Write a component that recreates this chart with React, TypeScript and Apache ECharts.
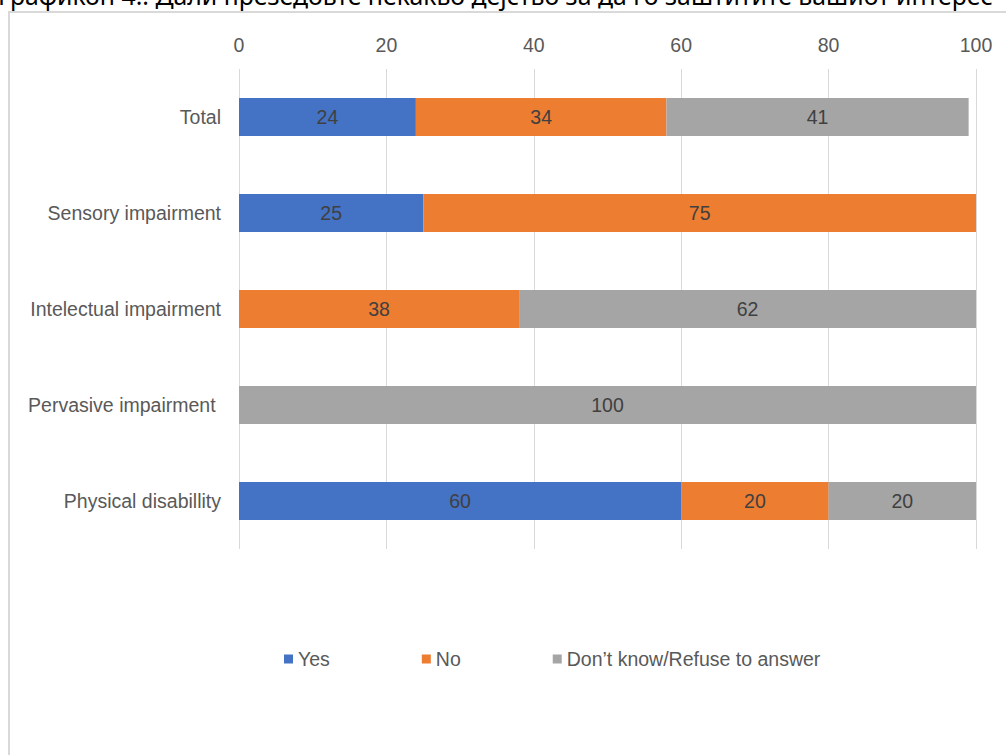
import React, { useEffect, useRef } from "react";
import * as echarts from "echarts";

const categories = [
  "Total",
  "Sensory impairment",
  "Intelectual impairment",
  "Pervasive impairment ",
  "Physical disabillity",
];
const yesValues = [24, 25, 0, 0, 60];
const noValues = [34, 75, 38, 0, 20];
const dkValues = [41, 0, 62, 100, 20];
const seriesNames = ["Yes", "No", "Don’t know/Refuse to answer"];
const seriesColors = ["#4472C4", "#ED7D31", "#A5A5A5"];
const titleText =
  "Графикон 4.: Дали презедовте некакво дејство за да го заштитите вашиот интерес";

export default function App() {
  const ref = useRef<HTMLDivElement>(null);
  useEffect(() => {
    document.body.style.margin = "0";
    const chart = echarts.init(ref.current!, null, { renderer: "svg" });
    const font = "'Liberation Sans', Arial, sans-serif";
    const fs = 19.5;
    const mk = (name: string, data: number[], color: string) => ({
      name,
      type: "bar",
      stack: "s",
      data: data.map((v) => (v === 0 ? null : v)),
      barWidth: 38,
      itemStyle: { color },
      label: {
        show: true,
        position: "inside",
        color: "#404040",
        fontSize: fs,
        fontFamily: font,
      },
    });
    chart.setOption({
      animation: false,
      backgroundColor: "#ffffff",
      textStyle: { fontFamily: font },
      graphic: [
        {
          type: "rect",
          shape: { x: 9, y: 12, width: 1100, height: 900 },
          style: { fill: "none", stroke: "#d9d9d9", lineWidth: 2 },
          silent: true,
        },
        {
          type: "text",
          x: -2,
          y: -5,
          style: {
            text: titleText,
            fontSize: 24.8,
            fontFamily: "'Noto Sans', sans-serif",
            fill: "#000000",
            verticalAlign: "middle",
          },
        },
      ],
      legend: {
        bottom: 81,
        left: 279,
        itemWidth: 9,
        itemHeight: 9,
        itemGap: 92,
        icon: "rect",
        textStyle: { color: "#595959", fontSize: fs, fontFamily: font, padding: [0, 0, 0, 0] },
        data: seriesNames,
      },
      grid: { left: 239, right: 30, top: 69, height: 480, containLabel: false },
      xAxis: {
        type: "value",
        position: "top",
        min: 0,
        max: 100,
        interval: 20,
        axisLine: { show: false },
        axisTick: { show: false },
        axisLabel: { color: "#595959", fontSize: fs, fontFamily: font, margin: 14 },
        splitLine: { lineStyle: { color: "#d9d9d9", width: 1 } },
      },
      yAxis: {
        type: "category",
        inverse: true,
        data: categories,
        axisLine: { show: false },
        axisTick: { show: false },
        axisLabel: { color: "#595959", fontSize: fs, fontFamily: font, margin: 18 },
      },
      series: [
        mk(seriesNames[0], yesValues, seriesColors[0]),
        mk(seriesNames[1], noValues, seriesColors[1]),
        mk(seriesNames[2], dkValues, seriesColors[2]),
      ],
    });
    return () => chart.dispose();
  }, []);
  return <div ref={ref} style={{ width: 1006, height: 755 }} />;
}
